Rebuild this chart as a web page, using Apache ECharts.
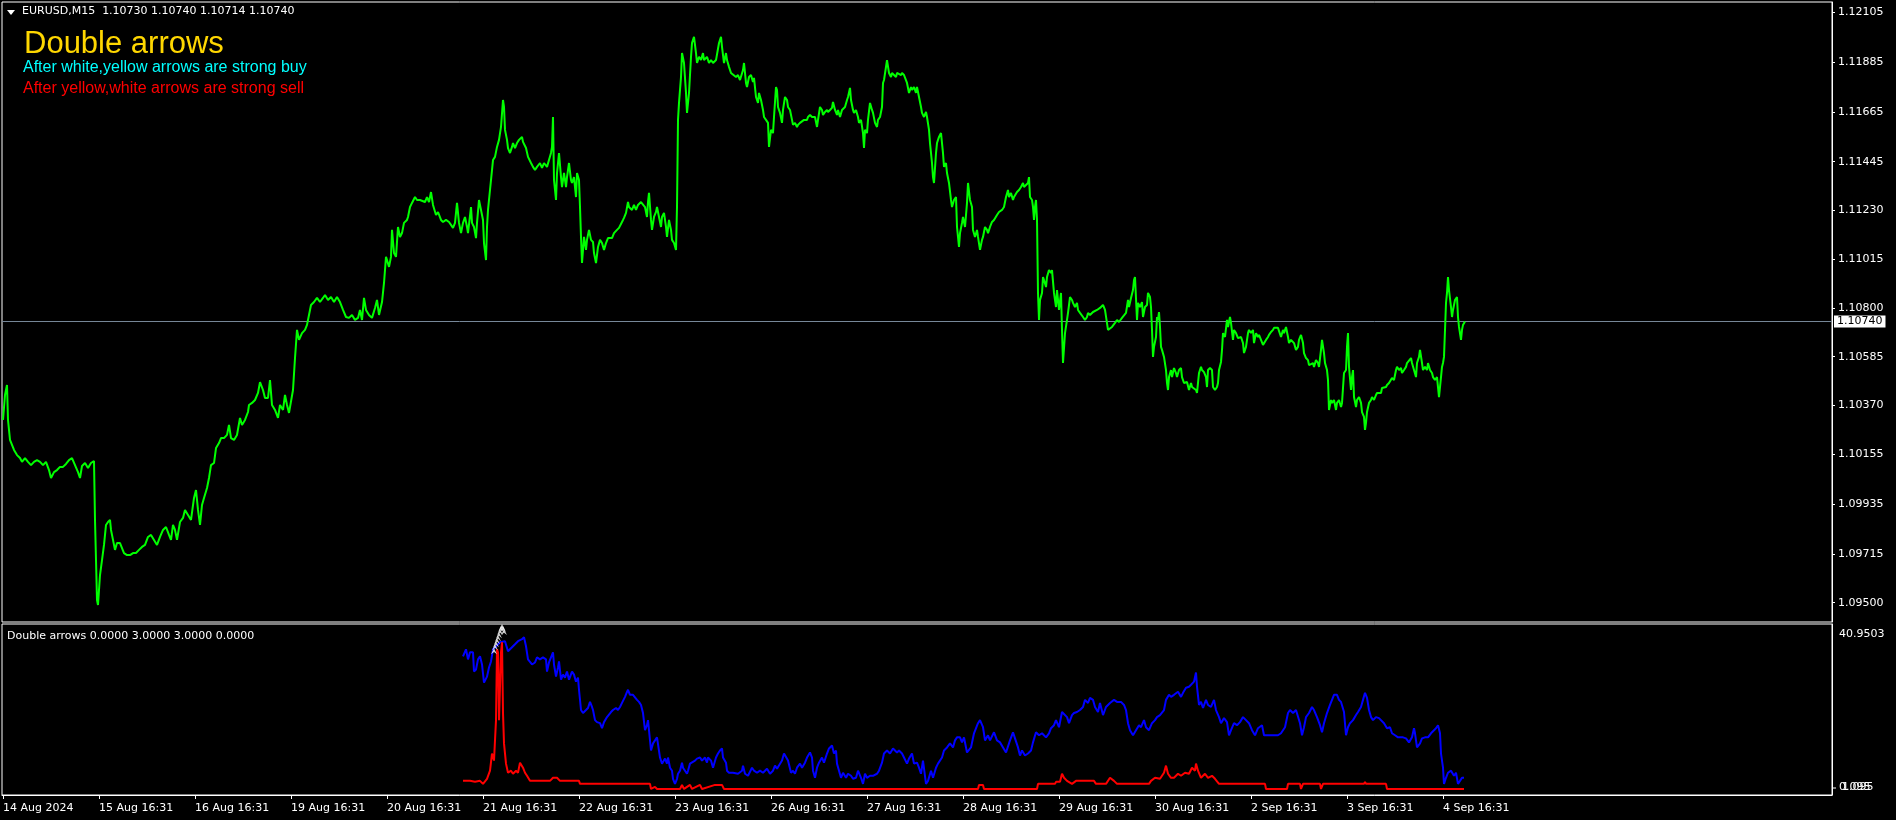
<!DOCTYPE html>
<html>
<head>
<meta charset="utf-8">
<script src="https://cdn.jsdelivr.net/npm/echarts/dist/echarts.min.js"></script>
<style>
html,body{margin:0;padding:0;background:#000;}
#chart{width:1896px;height:820px;}
</style>
</head>
<body>
<div id="chart"></div>
<script>
// ---------------- DATA ----------------
const symbolTitle = 'EURUSD,M15  1.10730 1.10740 1.10714 1.10740';
const indicatorTitle = 'Double arrows 0.0000 3.0000 3.0000 0.0000';
const headline = 'Double arrows';
const buyNote = 'After white,yellow arrows are strong buy';
const sellNote = 'After yellow,white arrows are strong sell';
const barsPerDay = 96; // M15 bars
const timeLabels = ['14 Aug 2024','15 Aug 16:31','16 Aug 16:31','19 Aug 16:31','20 Aug 16:31','21 Aug 16:31','22 Aug 16:31','23 Aug 16:31','26 Aug 16:31','27 Aug 16:31','28 Aug 16:31','29 Aug 16:31','30 Aug 16:31','2 Sep 16:31','3 Sep 16:31','4 Sep 16:31'];
const priceTicks = [1.12105,1.11885,1.11665,1.11445,1.11230,1.11015,1.10800,1.10585,1.10370,1.10155,1.09935,1.09715,1.09500];
const priceRange = [1.09415, 1.12149];
const indicatorMax = 40.9503;
const indicatorBottomLabels = ['0.095','1.095'];

// [bar index, close]
const eurusdClose = [[0,1.10306],[2,1.10416],[4,1.10460],[5,1.10306],[7,1.10218],[9,1.10218],[11,1.10174],[14,1.10151],[17,1.10138],[19,1.10121],[22,1.10138],[25,1.10121],[28,1.10107],[31,1.10121],[34,1.10129],[37,1.10121],[40,1.10107],[43,1.10121],[46,1.10085],[48,1.10050],[51,1.10076],[54,1.10085],[57,1.10099],[60,1.10099],[63,1.10112],[66,1.10129],[69,1.10138],[72,1.10107],[75,1.10076],[77,1.10050],[79,1.10103],[82,1.10116],[85,1.10094],[88,1.10116],[91,1.10125],[92,1.09865],[93,1.09688],[94,1.09512],[95,1.09490],[96,1.09556],[97,1.09622],[99,1.09688],[101,1.09755],[103,1.09843],[105,1.09856],[107,1.09865],[108,1.09821],[110,1.09777],[112,1.09733],[114,1.09763],[117,1.09763],[119,1.09741],[121,1.09719],[124,1.09710],[127,1.09710],[130,1.09719],[133,1.09719],[136,1.09733],[139,1.09746],[142,1.09755],[145,1.09790],[148,1.09799],[151,1.09777],[154,1.09755],[157,1.09790],[160,1.09821],[163,1.09834],[166,1.09799],[168,1.09777],[170,1.09843],[172,1.09821],[174,1.09777],[177,1.09856],[180,1.09874],[182,1.09909],[185,1.09887],[188,1.09865],[191,1.09962],[193,1.09997],[195,1.09909],[197,1.09843],[199,1.09931],[201,1.09962],[204,1.10006],[206,1.10050],[208,1.10107],[211,1.10116],[213,1.10182],[216,1.10204],[218,1.10226],[221,1.10226],[224,1.10240],[226,1.10284],[228,1.10226],[231,1.10218],[234,1.10240],[237,1.10315],[239,1.10284],[242,1.10306],[245,1.10341],[246,1.10372],[249,1.10381],[252,1.10394],[255,1.10425],[257,1.10473],[260,1.10438],[262,1.10403],[265,1.10403],[267,1.10482],[269,1.10372],[272,1.10350],[275,1.10315],[277,1.10372],[280,1.10350],[282,1.10416],[284,1.10372],[286,1.10337],[288,1.10341],[290,1.10438],[292,1.10579],[294,1.10703],[296,1.10659],[299,1.10689],[302,1.10703],[304,1.10725],[306,1.10769],[308,1.10813],[311,1.10826],[314,1.10844],[317,1.10826],[320,1.10844],[322,1.10857],[325,1.10835],[328,1.10848],[331,1.10826],[334,1.10848],[337,1.10826],[340,1.10791],[343,1.10760],[346,1.10756],[349,1.10769],[352,1.10747],[355,1.10756],[357,1.10791],[359,1.10747],[361,1.10844],[363,1.10791],[366,1.10769],[369,1.10756],[372,1.10800],[374,1.10835],[376,1.10769],
[379,1.10826],[381,1.10910],[383,1.11025],[384,1.11011],[386,1.10981],[388,1.11025],[389,1.11144],[391,1.11042],[393,1.11025],[395,1.11157],[397,1.11113],[399,1.11130],[401,1.11175],[404,1.11188],[405,1.11201],[407,1.11245],[409,1.11263],[412,1.11289],[414,1.11276],[417,1.11276],[419,1.11276],[422,1.11267],[424,1.11289],[426,1.11267],[428,1.11311],[430,1.11254],[433,1.11210],[435,1.11223],[438,1.11188],[440,1.11179],[443,1.11188],[446,1.11179],[448,1.11175],[450,1.11153],[452,1.11175],[454,1.11263],[456,1.11175],[458,1.11130],[460,1.11175],[462,1.11201],[464,1.11157],[465,1.11130],[468,1.11245],[469,1.11175],[471,1.11157],[473,1.11108],[474,1.11175],[476,1.11276],[478,1.11232],[480,1.11188],[481,1.11086],[483,1.11011],[484,1.11157],[485,1.11232],[487,1.11320],[489,1.11408],[490,1.11452],[492,1.11466],[494,1.11510],[496,1.11541],[498,1.11598],[500,1.11717],[501,1.11686],[502,1.11585],[504,1.11541],[505,1.11505],[507,1.11483],[509,1.11510],[510,1.11527],[512,1.11505],[514,1.11527],[516,1.11541],[519,1.11554],[520,1.11532],[523,1.11505],[525,1.11466],[528,1.11439],[530,1.11422],[532,1.11408],[534,1.11422],[537,1.11439],[539,1.11417],[541,1.11439],[544,1.11422],[546,1.11417],[548,1.11483],[549,1.11510],[550,1.11642],[551,1.11364],[553,1.11276],[554,1.11395],[556,1.11483],[558,1.11377],[559,1.11333],[561,1.11395],[563,1.11333],[564,1.11377],[566,1.11439],[568,1.11364],[569,1.11351],[571,1.11377],[573,1.11289],[574,1.11395],[576,1.11364],[577,1.11245],[578,1.11113],[579,1.10998],[581,1.11113],[583,1.11056],[584,1.11100],[586,1.11144],[588,1.11100],[590,1.11091],[591,1.11042],[593,1.10998],[595,1.11069],[597,1.11100],[599,1.11086],[601,1.11056],[603,1.11086],[605,1.11108],[607,1.11100],[609,1.11108],[611,1.11130],[614,1.11144],[616,1.11153],[618,1.11157],[620,1.11188],[621,1.11197],[623,1.11219],[625,1.11267],[626,1.11245],[629,1.11232],[631,1.11254],[633,1.11232],[635,1.11254],[638,1.11267],[640,1.11263],[642,1.11245],[644,1.11201],[645,1.11267],[646,1.11307],[648,1.11188],[649,1.11144],[651,1.11201],[653,1.11223],[654,1.11245],[656,1.11201],[658,1.11157],[659,1.11201],[661,1.11219],[663,1.11157],[664,1.11113],[666,1.11188],[668,1.11144],[669,1.11100],[671,1.11086],[673,1.11056],[674,1.11245],[675,1.11629],[676,1.11704],[678,1.11818],[679,1.11924],[681,1.11880],[683,1.11748],[684,1.11660],[686,1.11748],[688,1.11907],[689,1.11968],[691,1.11995],[693,1.11924],[694,1.11880],[696,1.11907],[698,1.11893],[700,1.11924],[701,1.11893],[704,1.11907],[706,1.11880],[708,1.11893],[710,1.11880],[713,1.11893],[714,1.11893],[716,1.11968],[718,1.11995],[719,1.11951],[721,1.11880],[723,1.11924],[724,1.11893],[726,1.11863],[728,1.11836],[730,1.11836],[733,1.11818],[735,1.11827],
[737,1.11805],[740,1.11849],[741,1.11880],[743,1.11792],[744,1.11774],[746,1.11818],[748,1.11827],[750,1.11796],[751,1.11814],[753,1.11730],[755,1.11704],[756,1.11748],[758,1.11717],[760,1.11673],[761,1.11642],[763,1.11629],[765,1.11616],[766,1.11510],[768,1.11585],[770,1.11571],[771,1.11642],[773,1.11774],[774,1.11761],[775,1.11686],[777,1.11660],[779,1.11616],[780,1.11673],[782,1.11730],[784,1.11717],[785,1.11686],[787,1.11673],[789,1.11629],[790,1.11607],[792,1.11616],[794,1.11598],[795,1.11607],[797,1.11616],[799,1.11620],[801,1.11629],[804,1.11629],[805,1.11642],[807,1.11651],[809,1.11642],[810,1.11638],[812,1.11642],[814,1.11598],[815,1.11629],[817,1.11686],[819,1.11673],[820,1.11651],[822,1.11664],[824,1.11673],[825,1.11664],[827,1.11673],[829,1.11682],[830,1.11708],[832,1.11673],[834,1.11651],[835,1.11673],[837,1.11642],[839,1.11673],[840,1.11673],[842,1.11686],[844,1.11717],[845,1.11730],[847,1.11770],[848,1.11717],[850,1.11673],[851,1.11660],[853,1.11673],[855,1.11642],[856,1.11616],[858,1.11629],[860,1.11571],[861,1.11505],[862,1.11585],[864,1.11571],[865,1.11629],[867,1.11704],[869,1.11673],[870,1.11660],[872,1.11616],[874,1.11598],[875,1.11629],[877,1.11642],[879,1.11686],[880,1.11792],[881,1.11805],[883,1.11863],[884,1.11893],[886,1.11836],[888,1.11818],[889,1.11836],[891,1.11840],[893,1.11818],[894,1.11836],[896,1.11836],[898,1.11827],[899,1.11836],[901,1.11827],[903,1.11827],[904,1.11792],[906,1.11748],[908,1.11774],[909,1.11761],[911,1.11774],[913,1.11748],[914,1.11774],[916,1.11730],[918,1.11686],[919,1.11660],[921,1.11642],[923,1.11664],[924,1.11642],[926,1.11585],[927,1.11527],[929,1.11439],[930,1.11377],[931,1.11351],[933,1.11483],[934,1.11527],[936,1.11554],[938,1.11571],[939,1.11571],[940,1.11483],[941,1.11422],[943,1.11439],[944,1.11395],[946,1.11351],[948,1.11276],[949,1.11245],[951,1.11276],[953,1.11289],[954,1.11157],[956,1.11069],[957,1.11130],[959,1.11175],[960,1.11201],[962,1.11157],[964,1.11263],[965,1.11351],[967,1.11276],[969,1.11245],[970,1.11144],[972,1.11113],[974,1.11144],[975,1.11113],[977,1.11056],[979,1.11100],[980,1.11113],[982,1.11157],[984,1.11144],[985,1.11130],[987,1.11157],[989,1.11179],[991,1.11188],[994,1.11210],[996,1.11223],[999,1.11232],[1001,1.11245],[1003,1.11289],[1005,1.11320],[1006,1.11289],[1008,1.11307],[1010,1.11276],[1011,1.11289],[1014,1.11311],[1016,1.11320],[1018,1.11333],[1020,1.11351],[1021,1.11333],[1023,1.11342],[1025,1.11351],[1026,1.11377],[1027,1.11289],[1029,1.11276],[1030,1.11245],[1031,1.11188],[1032,1.11245],[1033,1.11276],[1034,1.11188],[1035,1.10866],[1036,1.10747],[1037,1.10835],[1039,1.10866],[1040,1.10936],[1041,1.10923],[1043,1.10892],[1044,1.10936],[1046,1.10967],[1048,1.10954],[1049,1.10967],[1051,1.10866],[1053,1.10804],[1054,1.10879],[1056,1.10791],[1058,1.10866],[1059,1.10703],[1060,1.10557],[1062,1.10689],[1064,1.10747],[1065,1.10778],[1067,1.10848],[1069,1.10835],[1070,1.10822],[1072,1.10804],[1074,1.10822],[1075,1.10791],[1077,1.10778],[1079,1.10778],[1080,1.10760],[1082,1.10747],[1084,1.10760],[1085,1.10778],
[1087,1.10769],[1090,1.10782],[1094,1.10791],[1097,1.10800],[1100,1.10813],[1102,1.10791],[1104,1.10791],[1105,1.10703],[1107,1.10703],[1109,1.10716],[1112,1.10734],[1114,1.10747],[1116,1.10738],[1119,1.10756],[1121,1.10764],[1123,1.10778],[1125,1.10835],[1126,1.10804],[1128,1.10844],[1130,1.10879],[1131,1.10923],[1132,1.10936],[1134,1.10747],[1135,1.10822],[1137,1.10804],[1139,1.10826],[1140,1.10760],[1142,1.10804],[1144,1.10813],[1145,1.10866],[1147,1.10848],[1148,1.10804],[1149,1.10703],[1150,1.10584],[1151,1.10628],[1153,1.10672],[1154,1.10760],[1155,1.10747],[1156,1.10782],[1157,1.10716],[1158,1.10628],[1159,1.10615],[1161,1.10584],[1163,1.10526],[1164,1.10469],[1165,1.10438],[1166,1.10495],[1168,1.10526],[1169,1.10495],[1171,1.10535],[1173,1.10513],[1174,1.10495],[1176,1.10526],[1178,1.10535],[1179,1.10495],[1181,1.10469],[1183,1.10469],[1184,1.10473],[1186,1.10438],[1188,1.10469],[1189,1.10451],[1191,1.10447],[1193,1.10438],[1194,1.10425],[1196,1.10513],[1198,1.10540],[1199,1.10526],[1201,1.10517],[1203,1.10495],[1204,1.10451],[1205,1.10526],[1207,1.10535],[1209,1.10526],[1210,1.10451],[1212,1.10438],[1214,1.10451],[1215,1.10469],[1216,1.10526],[1218,1.10562],[1219,1.10615],[1220,1.10689],[1222,1.10672],[1224,1.10747],[1225,1.10716],[1227,1.10760],[1228,1.10734],[1230,1.10659],[1231,1.10703],[1233,1.10689],[1235,1.10667],[1236,1.10659],[1238,1.10672],[1240,1.10645],[1241,1.10601],[1243,1.10628],[1245,1.10689],[1246,1.10703],[1248,1.10689],[1250,1.10703],[1251,1.10645],[1253,1.10689],[1255,1.10672],[1256,1.10681],[1258,1.10659],[1260,1.10637],[1261,1.10645],[1263,1.10659],[1265,1.10672],[1266,1.10681],[1268,1.10694],[1270,1.10703],[1271,1.10712],[1273,1.10712],[1275,1.10712],[1276,1.10712],[1278,1.10672],[1280,1.10703],[1281,1.10689],[1283,1.10716],[1285,1.10672],[1286,1.10645],[1288,1.10659],[1290,1.10667],[1291,1.10645],[1293,1.10615],[1295,1.10628],[1296,1.10659],[1298,1.10681],[1300,1.10645],[1301,1.10601],[1303,1.10579],[1305,1.10570],[1306,1.10548],[1308,1.10540],[1310,1.10557],[1311,1.10540],[1313,1.10570],[1315,1.10557],[1316,1.10540],[1318,1.10615],[1319,1.10659],[1321,1.10601],[1322,1.10557],[1324,1.10526],[1325,1.10482],[1326,1.10350],[1328,1.10394],[1329,1.10381],[1331,1.10394],[1333,1.10350],[1334,1.10381],[1336,1.10394],[1338,1.10363],[1339,1.10381],[1341,1.10513],[1343,1.10526],[1344,1.10628],[1345,1.10689],[1346,1.10540],[1348,1.10438],[1349,1.10495],[1350,1.10526],[1351,1.10407],[1353,1.10363],[1354,1.10394],[1356,1.10407],[1358,1.10381],[1359,1.10341],[1361,1.10319],[1362,1.10262],[1363,1.10293],[1364,1.10341],[1366,1.10381],[1368,1.10394],[1369,1.10407],[1371,1.10394],[1373,1.10416],[1374,1.10425],[1376,1.10429],[1378,1.10425],[1379,1.10447],[1381,1.10451],[1383,1.10451],[1384,1.10460],[1386,1.10469],[1388,1.10473],[1389,1.10491],[1391,1.10482],[1393,1.10526],[1394,1.10540],[1396,1.10526],[1398,1.10535],[1399,1.10513],[1401,1.10526],[1403,1.10540],[1404,1.10557],[1406,1.10562],[1408,1.10579],[1409,1.10557],[1411,1.10526],[1413,1.10495],[1414,1.10557],[1416,1.10584],[1417,1.10615],[1419,1.10557],[1420,1.10526],[1422,1.10540],[1424,1.10526],[1425,1.10557],[1427,1.10526],[1429,1.10513],[1430,1.10495],[1432,1.10482],[1434,1.10495],[1435,1.10451],[1436,1.10407],[1438,1.10495],[1439,1.10540],[1440,1.10557],[1441,1.10584],[1442,1.10703],[1443,1.10822],[1444,1.10866],[1445,1.10936],[1446,1.10879],[1448,1.10804],[1449,1.10760],[1450,1.10791],[1452,1.10835],[1454,1.10848],[1455,1.10760],[1456,1.10716],[1458,1.10659],[1459,1.10703],[1460,1.10725],[1462,1.10740]];

// indicator buffers: [bar index, value]
const blueLine = [[460,33.20],[463,34.89],[465,32.47],[467,34.16],[470,34.16],[471,29.56],[473,30.05],[475,32.47],[477,33.20],[479,31.26],[481,26.90],[484,28.35],[486,30.53],[488,31.98],[490,34.89],[493,35.62],[497,36.59],[502,36.83],[505,34.41],[509,35.38],[512,36.10],[515,36.83],[519,37.31],[521,37.80],[523,35.62],[525,32.47],[529,31.26],[532,31.74],[534,32.95],[537,32.47],[540,32.95],[543,32.47],[544,29.56],[546,31.74],[548,32.95],[550,34.16],[551,31.26],[553,28.35],[555,30.53],[556,31.98],[558,27.62],[560,28.83],[562,28.11],[564,29.56],[566,27.62],[569,29.56],[571,28.83],[573,27.14],[575,28.11],[576,25.20],[578,20.35],[580,19.63],[583,20.35],[585,20.84],[587,22.29],[589,21.08],[590,20.35],[592,17.93],[594,17.45],[597,17.20],[599,15.99],[601,17.45],[604,18.66],[606,18.41],[608,19.87],[610,20.35],[613,20.84],[615,20.35],[617,21.08],[619,22.05],[622,23.50],[624,24.71],[625,25.20],[627,23.99],[630,23.99],[632,23.99],[634,22.78],[636,22.29],[638,21.56],[640,19.63],[642,15.51],[644,16.72],[645,17.93],[647,17.93],[648,10.66],[650,12.36],[652,13.08],[654,13.81],[655,13.81],[657,8.97],[659,7.51],[660,7.75],[662,8.72],[664,7.51],[665,8.97],[667,6.54],[669,5.82],[670,3.88],[672,2.67],[674,3.88],[675,5.09],[677,5.82],[679,7.75],[680,6.54],[682,5.82],[684,5.09],[685,5.82],[687,7.51],[689,7.75],[692,8.24],[694,8.72],[697,8.97],[699,8.24],[702,8.97],[704,7.75],[705,8.97],[708,8.24],[710,6.54],[713,8.97],[715,9.93],[717,10.66],[719,11.15],[720,8.97],[723,7.75],[724,5.82],[726,5.33],[730,5.33],[735,5.09],[739,5.82],[740,7.03],[742,5.09],[745,4.60],[749,6.54],[751,5.82],[754,5.33],[757,5.82],[760,5.33],[764,6.30],[767,5.09],[770,5.82],[772,7.03],[774,6.30],[776,6.54],[779,8.24],[781,9.93],[783,9.93],[785,8.24],[788,5.33],[790,5.82],[792,5.09],[794,6.54],[797,7.51],[799,6.54],[802,7.75],[804,8.97],[807,10.18],[809,8.97],[810,5.82],[812,4.12],[814,6.54],[816,7.75],[819,8.97],[821,7.75],[824,9.93],[826,11.15],[829,11.87],[831,9.93],[833,10.66],[834,7.51],[836,5.82],[838,4.12],[840,5.33],[843,4.12],[845,5.09],[848,4.60],[850,3.88],[853,4.12],[855,5.82],[858,4.12],[860,2.67],[862,5.09],[864,4.12],[867,4.60],[870,4.60],[874,5.09],[876,5.82],[879,7.75],[881,9.93],[884,10.66],[887,9.93],[890,11.15],[894,10.18],[896,10.66],[899,9.93],[901,8.97],[904,7.51],[906,8.72],[909,9.93],[911,7.51],[914,7.75],[916,6.54],[918,5.09],[920,8.24],[923,2.67],[925,3.39],[928,5.82],[930,4.12],[933,6.54],[935,7.51],[939,8.97],[941,10.66],[944,11.39],[947,12.36],[950,11.39],[952,13.08],[954,13.81],[957,13.81],[959,12.60],[961,13.81],[964,10.18],[968,11.39],[971,14.78],[975,17.20],[977,17.93],[980,16.23],[982,13.08],[985,14.30],[987,13.08],[991,15.02],[994,13.08],[997,12.60],[1000,11.39],[1003,10.18],[1007,13.08],[1010,15.02],[1012,13.57],[1015,11.39],[1017,9.45],[1019,10.66],[1022,9.45],[1025,9.93],[1028,10.66],[1030,12.60],[1033,15.02],[1036,14.30],[1039,14.78],[1043,13.81],[1046,14.78],[1048,15.99],[1051,16.72],[1053,17.93],[1056,16.23],[1059,19.87],[1061,19.63],[1064,18.66],[1066,17.20],[1069,19.14],[1071,19.63],[1074,19.87],[1077,20.35],[1080,21.08],[1082,22.78],[1085,22.05],[1087,23.26],[1090,22.78],[1092,21.08],[1095,19.87],[1097,22.05],[1100,19.14],[1103,21.08],[1107,22.05],[1111,22.78],[1114,22.29],[1118,22.29],[1121,21.56],[1123,20.35],[1125,17.20],[1127,15.51],[1130,14.30],[1133,15.51],[1136,16.72],[1138,16.23],[1141,17.93],[1143,16.23],[1146,15.51],[1149,17.20],[1152,17.93],[1154,18.66],[1157,19.14],[1161,20.35],[1163,22.78],[1166,23.99],[1168,23.50],[1171,23.99],[1175,24.71],[1178,23.50],[1180,24.47],[1183,25.68],[1186,25.93],[1188,26.41],[1191,27.14],[1193,29.32],[1194,25.93],[1196,21.56],[1198,22.29],[1200,20.84],[1203,22.78],[1205,21.56],[1208,21.08],[1211,22.78],[1213,20.35],[1216,18.66],[1218,17.20],[1221,18.41],[1224,17.45],[1226,14.30],[1228,15.51],[1231,17.20],[1234,16.72],[1237,17.45],[1240,18.66],[1243,17.93],[1246,17.20],[1249,15.51],[1252,14.30],[1255,15.99],[1259,16.72],[1261,14.30],[1265,14.30],[1270,14.30],[1275,14.30],[1278,14.78],[1282,16.23],[1285,19.63],[1287,20.35],[1290,19.63],[1293,20.35],[1295,20.35],[1297,17.20],[1299,14.30],[1301,16.23],[1303,18.66],[1306,19.63],[1309,21.08],[1311,20.35],[1314,18.66],[1317,16.72],[1319,15.02],[1321,17.20],[1324,19.63],[1327,21.56],[1329,22.78],[1331,23.99],[1334,23.99],[1336,22.78],[1338,22.29],[1341,19.87],[1343,14.30],[1345,16.23],[1347,17.20],[1350,17.93],[1353,19.14],[1355,19.87],[1358,21.08],[1360,22.78],[1362,24.47],[1364,23.26],[1366,20.35],[1368,18.66],[1370,17.93],[1373,18.66],[1376,18.41],[1378,18.41],[1381,17.20],[1384,15.99],[1387,16.23],[1389,14.78],[1392,14.30],[1395,13.81],[1397,13.57],[1400,13.81],[1403,13.57],[1406,12.60],[1409,13.81],[1411,15.99],[1412,14.78],[1414,11.39],[1417,12.36],[1419,13.57],[1422,13.81],[1425,13.81],[1428,14.78],[1430,15.02],[1433,15.99],[1435,16.72],[1437,14.78],[1438,9.93],[1440,6.54],[1441,2.67],[1443,4.12],[1445,5.33],[1448,5.82],[1451,4.60],[1453,5.33],[1455,2.67],[1457,3.39],[1459,4.12],[1461,4.12]];

const redLine = [[460,3.39],[467,3.39],[472,3.15],[477,3.39],[480,2.67],[484,3.88],[487,5.82],[489,9.93],[491,8.24],[493,17.93],[494,34.89],[495,34.16],[496,17.93],[498,34.16],[499,36.59],[500,19.63],[501,12.36],[503,7.51],[505,5.33],[508,5.82],[510,5.09],[513,5.82],[515,5.33],[517,7.75],[520,6.54],[522,5.33],[524,4.60],[527,3.39],[547,3.39],[550,4.12],[554,4.12],[557,3.39],[576,3.39],[577,2.67],[624,2.67],[625,2.91],[626,2.67],[647,2.67],[648,1.45],[652,1.94],[654,1.45],[677,1.45],[679,2.42],[681,1.45],[687,2.42],[689,1.45],[697,2.42],[699,1.45],[712,2.42],[719,2.42],[721,1.45],[975,1.45],[976,2.42],[980,2.42],[981,1.45],[1034,1.45],[1035,2.67],[1052,2.67],[1053,3.15],[1057,3.15],[1059,5.09],[1061,4.12],[1064,3.39],[1069,2.67],[1073,3.39],[1091,3.39],[1093,2.67],[1103,2.67],[1107,4.12],[1111,3.39],[1114,2.67],[1146,2.67],[1148,3.39],[1152,4.12],[1157,3.88],[1161,5.33],[1163,7.03],[1165,5.09],[1168,4.12],[1171,4.12],[1175,5.09],[1178,4.60],[1182,5.33],[1186,5.09],[1189,6.54],[1192,5.82],[1193,7.51],[1195,5.82],[1198,4.12],[1202,5.09],[1205,4.12],[1209,4.60],[1212,3.88],[1216,2.67],[1262,2.67],[1263,1.45],[1284,1.45],[1285,2.67],[1297,2.67],[1298,1.45],[1300,2.67],[1317,2.67],[1318,1.45],[1320,2.67],[1361,2.67],[1362,3.15],[1363,2.67],[1383,2.67],[1384,1.45],[1461,1.45]];

const whiteArrows = [[491,34.41],[492,35.38],[493,36.10],[494,36.83],[495,37.56],[496,38.28],[497,39.01],[498,39.74],[499,40.22],[500,39.74],[501,39.01]];

// ---------------- CHART ----------------
const FONT = 'DejaVu Sans';
const chart = echarts.init(document.getElementById('chart'), null, {renderer: 'canvas'});
const lastClose = eurusdClose[eurusdClose.length - 1][1];
const xTickBars = timeLabels.map((_, i) => i * barsPerDay);
const xMin = -1, xMax = 1829;

const option = {
  backgroundColor: '#000000',
  animation: false,
  grid: [
    {left: 2, top: 2, width: 1830, height: 620, show: true, borderColor: '#ffffff', borderWidth: 1, backgroundColor: 'transparent'},
    {left: 2, top: 624, width: 1830, height: 171, show: true, borderColor: '#ffffff', borderWidth: 1, backgroundColor: 'transparent'}
  ],
  xAxis: [
    {type: 'value', gridIndex: 0, min: xMin, max: xMax, show: false},
    {type: 'value', gridIndex: 1, min: xMin, max: xMax, position: 'bottom',
      axisLine: {show: true, onZero: false, lineStyle: {color: '#ffffff'}},
      splitLine: {show: false},
      axisTick: {show: true, inside: false, length: 4, customValues: xTickBars, lineStyle: {color: '#ffffff'}},
      axisLabel: {show: true, customValues: xTickBars, align: 'left', margin: 8, color: '#ffffff', fontFamily: FONT, fontSize: 11,
        formatter: v => timeLabels[Math.round(v / barsPerDay)] || ''}
    }
  ],
  yAxis: [
    {type: 'value', gridIndex: 0, min: priceRange[0], max: priceRange[1], position: 'right',
      axisLine: {show: true, onZero: false, lineStyle: {color: '#ffffff'}},
      splitLine: {show: false},
      axisTick: {show: true, inside: false, length: 3, customValues: priceTicks, lineStyle: {color: '#ffffff'}},
      axisLabel: {show: true, customValues: priceTicks, margin: 6, color: '#ffffff', fontFamily: FONT, fontSize: 11,
        formatter: v => v.toFixed(5)}
    },
    {type: 'value', gridIndex: 1, min: 0, max: indicatorMax, position: 'right',
      axisLine: {show: true, onZero: false, lineStyle: {color: '#ffffff'}},
      splitLine: {show: false}, axisTick: {show: false}, axisLabel: {show: false}
    }
  ],
  series: [
    {type: 'line', xAxisIndex: 0, yAxisIndex: 0, data: [[xMin, lastClose], [xMax, lastClose]], showSymbol: false, symbol: 'none',
      lineStyle: {color: '#778899', width: 1}, z: 2, silent: true,
      endLabel: {show: true, distance: 2, formatter: () => lastClose.toFixed(5), color: '#000000',
        backgroundColor: '#ffffff', padding: [1, 3, 0, 3], fontFamily: FONT, fontSize: 11}
    },
    {type: 'line', xAxisIndex: 0, yAxisIndex: 0, data: eurusdClose, showSymbol: false, symbol: 'none',
      lineStyle: {color: '#00ff00', width: 2}, itemStyle: {color: '#00ff00'}, z: 3},
    {type: 'line', xAxisIndex: 1, yAxisIndex: 1, data: blueLine, showSymbol: false, symbol: 'none',
      lineStyle: {color: '#0000ff', width: 2}, z: 3},
    {type: 'line', xAxisIndex: 1, yAxisIndex: 1, data: redLine, showSymbol: false, symbol: 'none',
      lineStyle: {color: '#ff0000', width: 2}, z: 4},
    {type: 'scatter', xAxisIndex: 1, yAxisIndex: 1, data: whiteArrows, symbol: 'path://M0,10 L5,0 L10,10 L5,6 Z', symbolSize: [6, 6],
      itemStyle: {color: '#ffffff'}, z: 5}
  ],
  graphic: [
    {type: 'polygon', shape: {points: [[7, 10], [15, 10], [11, 15]]}, style: {fill: '#ffffff'}},
    {type: 'text', left: 22, top: 6, style: {text: symbolTitle, fill: '#ffffff', font: '11px "DejaVu Sans"'}},
    {type: 'text', left: 24, top: 29, style: {text: headline, fill: '#ffd700', font: '31px "Liberation Sans"'}},
    {type: 'text', left: 23, top: 60, style: {text: buyNote, fill: '#00ffff', font: '16px "Liberation Sans"'}},
    {type: 'text', left: 23, top: 81, style: {text: sellNote, fill: '#ff0000', font: '16px "Liberation Sans"'}},
    {type: 'text', left: 7, top: 631, style: {text: indicatorTitle, fill: '#ffffff', font: '11px "DejaVu Sans"'}},
    {type: 'text', left: 1839, top: 629, style: {text: indicatorMax.toFixed(4), fill: '#ffffff', font: '11px "DejaVu Sans"'}},
    {type: 'line', shape: {x1: 1832, y1: 788, x2: 1836, y2: 788}, style: {stroke: '#ffffff', lineWidth: 1}},
    {type: 'text', left: 1839, top: 782, style: {text: indicatorBottomLabels[0], fill: '#ffffff', font: '11px "DejaVu Sans"'}},
    {type: 'text', left: 1842, top: 782, style: {text: indicatorBottomLabels[1], fill: '#ffffff', font: '11px "DejaVu Sans"'}}
  ]
};
chart.setOption(option);
</script>
</body>
</html>
